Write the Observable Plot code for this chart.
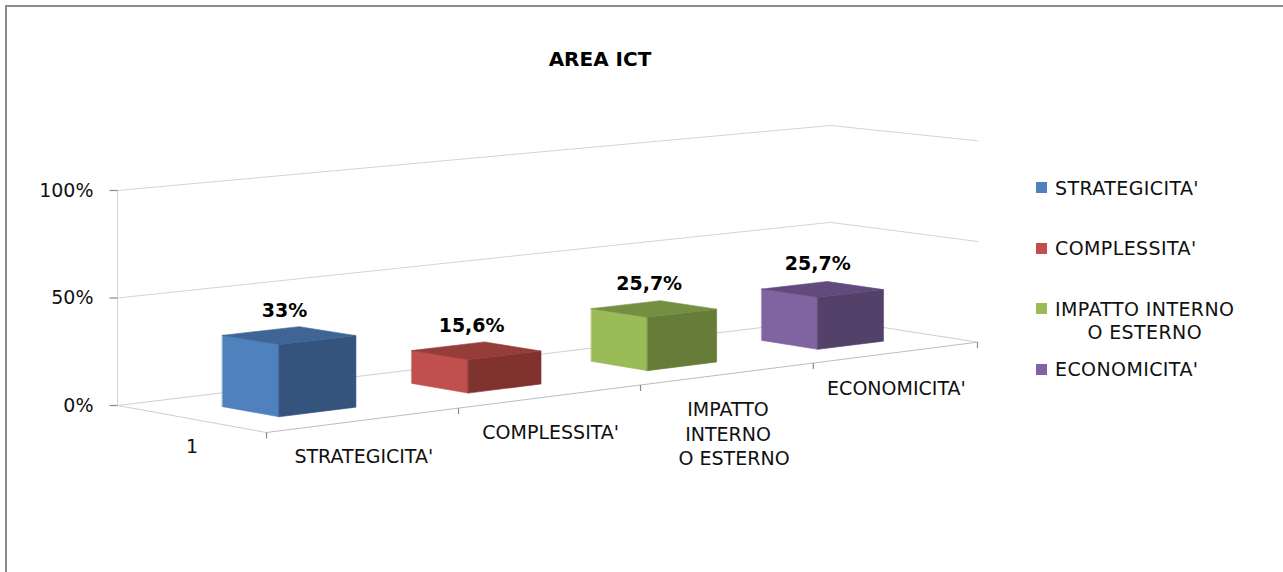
<!DOCTYPE html>
<html><head><meta charset="utf-8">
<script src="https://cdn.jsdelivr.net/npm/d3@7"></script>
<script src="https://cdn.jsdelivr.net/npm/@observablehq/plot@0.6"></script>
<style>
html,body{margin:0;padding:0;background:#fff;overflow:hidden;width:1283px;height:572px;}
#wrap{position:relative;width:1283px;height:572px;font-family:"DejaVu Sans",sans-serif;overflow:hidden;}
#frame{position:absolute;left:5px;top:5px;width:1320px;height:620px;border:2px solid #8c8c8c;box-sizing:border-box;}
#chart{position:absolute;left:0;top:0;}
#title{position:absolute;left:450px;width:300px;top:47px;text-align:center;font-weight:bold;font-size:20px;line-height:24px;color:#000;}
.item{position:absolute;left:1036px;font-size:19px;line-height:23px;letter-spacing:0.4px;color:#111;white-space:nowrap;}
.sw{position:absolute;left:0;width:11px;height:11px;}
.lbl{position:absolute;left:19px;top:0;text-align:center;display:inline-block;}
</style></head>
<body><div id="wrap"><div id="frame"></div><div id="chart"></div><div id="title"></div><div id="legend"></div></div>
<script>
// ---- data ----
const title = "AREA ICT";
const categories = ["STRATEGICITA'", "COMPLESSITA'", "IMPATTO INTERNO O ESTERNO", "ECONOMICITA'"];
const values = [0.33, 0.156, 0.257, 0.257];
const valueLabels = ["33%", "15,6%", "25,7%", "25,7%"];
const axisLabels = ["STRATEGICITA'", "COMPLESSITA'", "IMPATTO\nINTERNO\n\u00a0\u00a0O ESTERNO", "ECONOMICITA'"];
const legendLabels = ["STRATEGICITA'", "COMPLESSITA'", "IMPATTO INTERNO<br>O ESTERNO", "ECONOMICITA'"];
const seriesNames = ["1"];
const yTicks = [0, 0.5, 1];
const yTickLabels = ["0%", "50%", "100%"];
const lightColors = ["#4F81BD", "#C0504D", "#9BBB59", "#8064A2"];
const darkColors  = ["#34547D", "#80322F", "#667C38", "#534169"];
const topColors   = ["#3E6595", "#963C39", "#748E42", "#614B7C"];

// ---- 3D projection (oblique with mild perspective) ----
const W = 1283, H = 572;
const nCat = categories.length;
const cam = {BL:[117,405], FL:[266,432], BR:[830,318.7], FR:[977,341.7], K:215, persp:0.11, depthGrow:0.04};
function P(c, d, v) {
  const s = 1 + cam.persp * c / nCat;
  const t = (c / nCat) * (1 + cam.persp) / s;
  const bx = cam.BL[0] + t * (cam.BR[0] - cam.BL[0]);
  const by = cam.BL[1] + t * (cam.BR[1] - cam.BL[1]);
  const fx = cam.FL[0] + t * (cam.FR[0] - cam.FL[0]);
  const fy = cam.FL[1] + t * (cam.FR[1] - cam.FL[1]);
  return {x: bx + d * (fx - bx), y: by + d * (fy - by) - v * cam.K * (1 + cam.depthGrow * d) / s};
}
const barHalf = 0.2, d0 = 0.31, d1 = 0.69;

// faces
const faces = [];
values.forEach((v, i) => {
  const c0 = i + 0.5 - barHalf, c1 = i + 0.5 + barHalf;
  const add = (name, pts, fill) => pts.forEach(p => { const q = P(...p); faces.push({face: i + name, x: q.x, y: q.y, fill}); });
  add("L", [[c0,d0,0],[c0,d1,0],[c0,d1,v],[c0,d0,v]], lightColors[i]);
  add("F", [[c0,d1,0],[c1,d1,0],[c1,d1,v],[c0,d1,v]], darkColors[i]);
  add("T", [[c0,d0,v],[c0,d1,v],[c1,d1,v],[c1,d0,v]], topColors[i]);
});

// grid lines on back and right walls
const grid = [];
yTicks.filter(v => v > 0).forEach((v, k) => {
  [[0,0],[nCat,0],[nCat,1]].forEach(([c,d]) => { const q = P(c,d,v); grid.push({g: k, ...q}); });
});
// floor edges
const floor = [];
[[[0,0],[nCat,0]], [[0,0],[0,1]], [[nCat,0],[nCat,1]]].forEach((seg, k) => seg.forEach(([c,d]) => floor.push({g: k, ...P(c,d,0)})));
const frontEdge = [P(0,1,0), P(nCat,1,0)];
const yAxisLine = [P(0,0,0), P(0,0,1)];

const catTicks = d3.range(nCat + 1).map(c => P(c, 1, 0));
const yTickPts = yTicks.map((v, i) => ({...P(0,0,v), label: yTickLabels[i]}));
const catLabelPts = axisLabels.map((l, i) => ({...P(i + 0.5, 1, 0), label: l}));
const valLabelPts = values.map((v, i) => ({...P(i + 0.5, 0.5, v), label: valueLabels[i]}));
const seriesPts = seriesNames.map(s => ({...P(0, 0.5, 0), label: s}));

const font = "DejaVu Sans";
const chart = Plot.plot({
  width: W, height: H, margin: 0,
  x: {domain: [0, W], range: [0, W], axis: null},
  y: {domain: [0, H], range: [0, H], axis: null},
  color: {type: "identity"},
  marks: [
    Plot.line(grid, {x: "x", y: "y", z: "g", stroke: "#d4d4d4", strokeWidth: 1}),
    Plot.line(floor, {x: "x", y: "y", z: "g", stroke: "#cfcfcf", strokeWidth: 1}),
    Plot.line(yAxisLine, {x: "x", y: "y", stroke: "#d4d4d4", strokeWidth: 1}),
    Plot.line(frontEdge, {x: "x", y: "y", stroke: "#bdbdbd", strokeWidth: 1}),
    Plot.link(catTicks, {x1: "x", y1: "y", x2: "x", y2: d => d.y + 6, stroke: "#8a8a8a", strokeWidth: 1.2}),
    Plot.link(yTickPts, {x1: d => d.x - 8, y1: "y", x2: "x", y2: "y", stroke: "#8a8a8a", strokeWidth: 1.2}),
    Plot.line(faces, {x: "x", y: "y", z: "face", fill: "fill", stroke: "fill", strokeWidth: 0.6, curve: "linear-closed"}),
    Plot.text(yTickPts, {x: "x", y: "y", text: "label", dx: -24, textAnchor: "end", fontSize: 19, fontFamily: font, fill: "#111"}),
    Plot.text(catLabelPts, {x: "x", y: d => d.y + 25, text: "label", lineAnchor: "top", lineHeight: 1.29, fontSize: 19, fontFamily: font, fill: "#111"}),
    Plot.text(valLabelPts, {x: "x", y: "y", text: "label", dx: -5, dy: -25, fontSize: 19, fontWeight: "bold", fontFamily: font, fill: "#000"}),
    Plot.text(seriesPts, {x: "x", y: "y", text: "label", dy: 28, fontSize: 19, fontFamily: font, fill: "#111"})
  ]
});
document.getElementById("chart").appendChild(chart);
document.getElementById("title").textContent = title;

const legend = document.getElementById("legend");
legendLabels.forEach((l, i) => {
  const it = document.createElement("div");
  it.className = "item";
  it.style.top = (176.5 + i * 60.5) + "px";
  const sw = document.createElement("div");
  sw.className = "sw"; sw.style.background = lightColors[i]; sw.style.top = "5.5px";
  const lb = document.createElement("div");
  lb.className = "lbl"; lb.innerHTML = l;
  it.appendChild(sw); it.appendChild(lb);
  legend.appendChild(it);
});
</script></body></html>
